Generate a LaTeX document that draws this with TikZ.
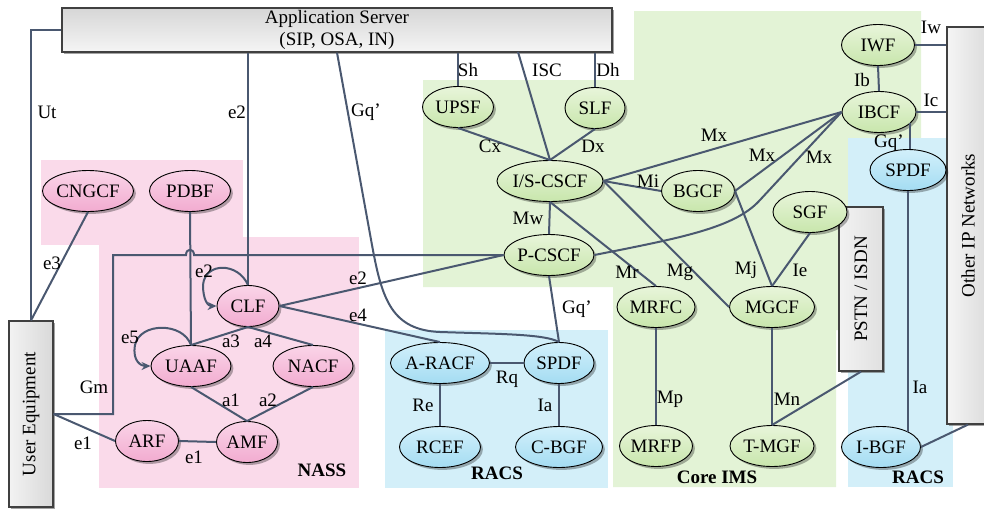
\documentclass[tikz,border=0pt]{standalone}
\usepackage{fontspec}
\setmainfont{Liberation Serif}
\usetikzlibrary{shapes.geometric,shadows,arrows.meta,backgrounds}
\definecolor{lnc}{RGB}{74,88,112}
\definecolor{pinkbg}{RGB}{250,218,234}
\definecolor{greenbg}{RGB}{227,243,214}
\definecolor{bluebg}{RGB}{211,239,249}
\definecolor{gtop}{RGB}{232,245,218}
\definecolor{gbot}{RGB}{200,230,172}
\definecolor{ptop}{RGB}{250,212,232}
\definecolor{pbot}{RGB}{242,172,208}
\definecolor{btop}{RGB}{210,240,251}
\definecolor{bbot}{RGB}{164,220,242}
\begin{document}
\begin{tikzpicture}[x=0.5pt,y=-0.5pt,
  every node/.style={font=\fontsize{9.5}{11}\selectfont},
  el/.style={ellipse, draw=black, line width=0.45pt, inner sep=0pt,
    minimum height=20.5pt, minimum width={#1*0.5pt},
    drop shadow={shadow xshift=1.2pt, shadow yshift=-1.2pt, fill=black, opacity=0.3}},
  gn/.style={el=#1, top color=gtop, bottom color=gbot},
  pn/.style={el=#1, top color=ptop, bottom color=pbot},
  bn/.style={el=#1, top color=btop, bottom color=bbot},
  box/.style={draw=black!75, line width=0.6pt, inner sep=0pt,
    drop shadow={shadow xshift=1.2pt, shadow yshift=-1.2pt, fill=black!60, opacity=0.6}},
  cn/.style={draw=lnc, line width=1pt},
  lbl/.style={inner sep=0pt},
  reg/.style={inner sep=0pt, font=\fontsize{9.5}{11}\selectfont\bfseries},
  tip/.style={-{Stealth[length=4.5pt,width=4pt]}}
]
\useasboundingbox (0,0) rectangle (984,509);

% ---------- regions ----------
\begin{scope}[on background layer]
  \fill[pinkbg] (41,160) rectangle (243,245);
  \fill[pinkbg] (99,237) rectangle (359,488);
  \fill[greenbg] (423,80) -- (634,80) -- (634,11) -- (921,11) -- (921,138) -- (848,138)
     -- (848,330) -- (836,330) -- (836,487) -- (613,487) -- (613,287) -- (423,287) -- cycle;
  \fill[bluebg] (385,330) rectangle (608,488);
  \fill[bluebg] (848,138) rectangle (953,487);
\end{scope}

% ---------- boxes ----------
\node[box, minimum width=275pt, minimum height=22pt, align=center,
  top color=black!16, bottom color=black!4] (as) at (337,30) {Application Server\\(SIP, OSA, IN)};
\node[box, minimum width=22pt, minimum height=93pt, left color=black!5, right color=black!15]
  (ue) at (31,414) {\rotatebox{90}{User Equipment}};
\node[box, minimum width=22pt, minimum height=82pt, left color=black!5, right color=black!12]
  (pstn) at (861,289) {\rotatebox{90}{PSTN / ISDN}};
\node[box, minimum width=21pt, minimum height=198.5pt, left color=black!4, right color=black!14]
  (oth) at (968,225.5) {\rotatebox{90}{Other IP Networks}};

% ---------- NASS ----------
\node[pn=91] (cngcf) at (88,191) {CNGCF};
\node[pn=81] (pdbf) at (190,191) {PDBF};
\node[pn=62] (clf) at (248,306) {CLF};
\node[pn=80] (uaaf) at (191,366) {UAAF};
\node[pn=80] (nacf) at (313,366) {NACF};
\node[pn=63] (arf) at (147,441) {ARF};
\node[pn=61] (amf) at (247,442) {AMF};

% ---------- Core IMS ----------
\node[gn=71] (upsf) at (458,107) {UPSF};
\node[gn=60] (slf) at (595,108) {SLF};
\node[gn=106] (iscscf) at (550,181) {I/S-CSCF};
\node[gn=90] (pcscf) at (549,255) {P-CSCF};
\node[gn=73] (bgcf) at (698,191) {BGCF};
\node[gn=74] (sgf) at (810,212) {SGF};
\node[gn=78] (mrfc) at (656,307) {MRFC};
\node[gn=85] (mgcf) at (772,307) {MGCF};
\node[gn=73] (mrfp) at (656,446) {MRFP};
\node[gn=84] (tmgf) at (772,446) {T-MGF};
\node[gn=73] (iwf) at (878,45) {IWF};
\node[gn=74] (ibcf) at (879,112) {IBCF};

% ---------- RACS ----------
\node[bn=76] (spdfr) at (908,170) {SPDF};
\node[bn=79] (ibgf) at (881,447) {I-BGF};
\node[bn=99] (aracf) at (440,363) {A-RACF};
\node[bn=70] (spdf) at (559,363) {SPDF};
\node[bn=81] (rcef) at (440,447) {RCEF};
\node[bn=87] (cbgf) at (559,447) {C-BGF};

\coordinate (isctop) at (518,52);
\coordinate (gmc) at (113,255);

% ---------- connectors ----------
\draw[cn] (ue.north) |- (as.west);
\draw[cn] (cngcf.south) -- (ue.north);
\draw[cn] (as.south -| clf.north) -- (clf.north);
\draw[cn] (as.south) -- (372,245) .. controls (382,300) and (392,330) .. (440,332)
   .. controls (500,334) and (545,334) .. (spdf.north);
\draw[cn] (as.south -| upsf.north) -- (upsf.north);
\draw[cn] (isctop) -- (iscscf.north);
\draw[cn] (as.south -| slf.north) -- (slf.north);
\draw[cn] (upsf.south) -- (iscscf.north);
\draw[cn] (slf.south) -- (iscscf.north);
\draw[cn] (iscscf.south) -- (pcscf.north);
\draw[cn] (iscscf.east) -- (bgcf.west);
\draw[cn] (iscscf.east) -- (ibcf.west);
\draw[cn] (bgcf.east) -- (ibcf.west);
\draw[cn] (pcscf.east) .. controls (680,238) and (735,228) .. (760,200) -- (ibcf.west);
\draw[cn] (iscscf.south) -- (mrfc.north);
\draw[cn] (iscscf.east) -- (mgcf.west);
\draw[cn] (bgcf.east) -- (mgcf.north);
\draw[cn] (sgf.south) -- (mgcf.north);
\draw[cn] (mrfc.south) -- (mrfp.north);
\draw[cn] (mgcf.south) -- (tmgf.north);
\draw[cn] (pstn.south) -- (tmgf.north);
\draw[cn] (iwf.south) -- (ibcf.north);
\draw[cn] (iwf.east) -- (iwf.east -| oth.west);
\draw[cn] (ibcf.east) -- (ibcf.east -| oth.west);
\draw[cn] (ibcf.-20) -- (ibcf.-20 |- spdfr.north);
\draw[cn] (spdfr.south) -- (spdfr.south |- ibgf.30);
\draw[cn] (ibgf.east) -- (oth.south);
\draw[cn] (pcscf.south) -- (spdf.north);
\draw[cn] (aracf.east) -- (spdf.west);
\draw[cn] (aracf.south) -- (rcef.north);
\draw[cn] (spdf.south) -- (cbgf.north);
\draw[cn] (clf.east) -- (pcscf.west);
\draw[cn] (clf.east) -- (aracf.north);
\draw[cn] (ue.east) -| (gmc) -- (186,255) .. controls (186,248) and (194,248) .. (194,255) -- (pcscf.west);
\draw[cn] (pdbf.south) -- (uaaf.north);
\draw[cn] (ue.east) -- (arf.west);
\draw[cn] (arf.east) -- (amf.west);
\draw[cn] (uaaf.south) -- (amf.north);
\draw[cn] (nacf.south) -- (amf.north);
\draw[cn] (uaaf.north) -- (clf.south);
\draw[cn] (clf.south) -- (nacf.north);
\draw[cn, tip] (clf.north) .. controls (238,262) and (205,262) .. (203,285)
   .. controls (203,300) and (208,306) .. (clf.west);
\draw[cn, tip] (uaaf.north) .. controls (183,322) and (140,322) .. (135,345)
   .. controls (132,362) and (142,366) .. (uaaf.west);

% ---------- labels ----------
\node[lbl] (lUt) at (47,112) {Ut};
\node[lbl] (le2a) at (237,112) {e2};
\node[lbl] (lgq1) at (366,112) {Gq’};
\node[lbl] (lsh) at (468,70) {Sh};
\node[lbl] (lisc) at (547,70) {ISC};
\node[lbl] (ldh) at (608,70) {Dh};
\node[lbl] (lcx) at (490,146) {Cx};
\node[lbl] (ldx) at (593,146) {Dx};
\node[lbl] (lmw) at (528,218) {Mw};
\node[lbl] (lmx1) at (714,135) {Mx};
\node[lbl] (lmx2) at (762,155) {Mx};
\node[lbl] (lmx3) at (819,157) {Mx};
\node[lbl] (lmi) at (648,181) {Mi};
\node[lbl] (liw) at (931,27) {Iw};
\node[lbl] (lib) at (862,80) {Ib};
\node[lbl] (lic) at (931,100) {Ic};
\node[lbl] (lgq2) at (889,143) {Gq’};
\node[lbl] (lmr) at (627,272) {Mr};
\node[lbl] (lmg) at (680,272) {Mg};
\node[lbl] (lmj) at (746,270) {Mj};
\node[lbl] (lie) at (800,270) {Ie};
\node[lbl] (lgq3) at (577,309) {Gq’};
\node[lbl] (le3) at (52,263) {e3};
\node[lbl] (le2b) at (204,271) {e2};
\node[lbl] (le2c) at (358,278) {e2};
\node[lbl] (le4) at (358,315) {e4};
\node[lbl] (le5) at (130,337) {e5};
\node[lbl] (la3) at (231,341) {a3};
\node[lbl] (la4) at (263,341) {a4};
\node[lbl] (lgm) at (94,387) {Gm};
\node[lbl] (la1) at (231,400) {a1};
\node[lbl] (la2) at (268,400) {a2};
\node[lbl] (le1a) at (83,443) {e1};
\node[lbl] (le1b) at (194,457) {e1};
\node[lbl] (lrq) at (507,379) {Rq};
\node[lbl] (lre) at (423,405) {Re};
\node[lbl] (lia1) at (545,405) {Ia};
\node[lbl] (lmp) at (670,399) {Mp};
\node[lbl] (lmn) at (787,399) {Mn};
\node[lbl] (lia2) at (920,387) {Ia};
\node[reg] (rnass) at (322,470) {NASS};
\node[reg] (rracs1) at (497,473) {RACS};
\node[reg] (rims) at (717,477) {Core IMS};
\node[reg] (rracs2) at (918,477) {RACS};
\end{tikzpicture}
\end{document}
